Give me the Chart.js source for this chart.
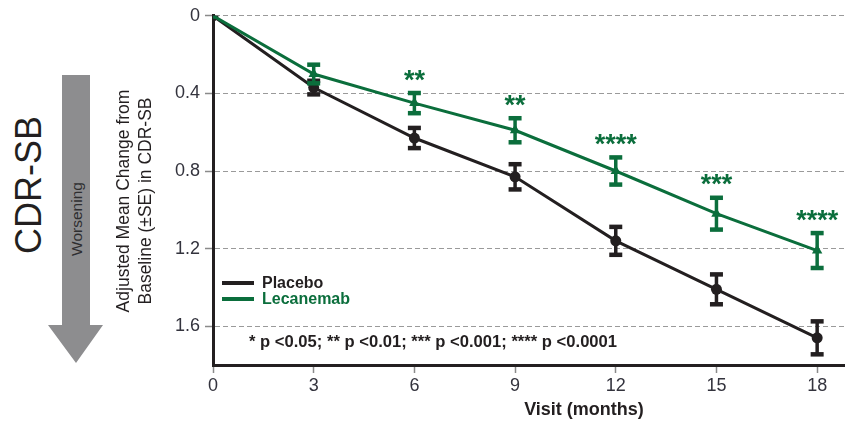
<!DOCTYPE html>
<html><head><meta charset="utf-8">
<script src="https://cdn.jsdelivr.net/npm/chart.js@4.4.1/dist/chart.umd.min.js"></script>
<style>
html,body{margin:0;padding:0;background:#fff;}
#wrap{position:relative;width:850px;height:423px;overflow:hidden;font-family:"Liberation Sans",Arial,sans-serif;}
#c{position:absolute;left:0;top:0;}
.rot{position:absolute;white-space:nowrap;line-height:1;transform:translate(-50%,-50%) rotate(-90deg);}
</style></head><body>
<div id="wrap">
<svg width="850" height="423" style="position:absolute;left:0;top:0">
<polygon points="62,75 90,75 90,325 103,325 76,363 48,325 62,325" fill="#8d8d8f"/>
</svg>
<div class="rot" style="left:29px;top:185px;font-size:36px;color:#231f20;">CDR-SB</div>
<div class="rot" style="left:77px;top:219px;font-size:15.5px;color:#2e2e30;">Worsening</div>
<canvas id="c" width="850" height="423"></canvas>
</div>
<script>
// ---- data ----
const months = [0, 3, 6, 9, 12, 15, 18];
const placeboMean = [0, 0.37, 0.63, 0.83, 1.16, 1.41, 1.66];
const placeboSE = [0, 0.035, 0.052, 0.065, 0.072, 0.077, 0.085];
const lecanemabMean = [0, 0.30, 0.45, 0.59, 0.80, 1.02, 1.21];
const lecanemabSE = [0, 0.048, 0.052, 0.062, 0.070, 0.082, 0.090];
const significance = ['', '', '**', '**', '****', '***', '****'];
const yTickValues = [0, 0.4, 0.8, 1.2, 1.6];
const xTickValues = [0, 3, 6, 9, 12, 15, 18];
const seriesNames = ['Placebo', 'Lecanemab'];
const xTitle = 'Visit (months)';
const yTitle = ['Adjusted Mean Change from', 'Baseline (\u00B1SE) in CDR-SB'];
const footnote = '* p <0.05; ** p <0.01; *** p <0.001; **** p <0.0001';

// ---- styles ----
const GREEN = '#0b6e3c';
const BLACK = '#231f20';
const FONT = '"Liberation Sans", Arial, sans-serif';

const errorBars = {
  id: 'errorBars',
  afterDatasetDraw(chart, args) {
    const ds = chart.data.datasets[args.index];
    if (!ds.se) return;
    const {ctx, scales: {x, y}} = chart;
    ctx.save();
    ctx.strokeStyle = ds.borderColor;
    ctx.fillStyle = ds.borderColor;
    ds.data.forEach((p, i) => {
      const se = ds.se[i];
      if (!se) return;
      const px = x.getPixelForValue(p.x);
      const y1 = y.getPixelForValue(p.y - se);
      const y2 = y.getPixelForValue(p.y + se);
      ctx.lineWidth = 3.5;
      ctx.beginPath(); ctx.moveTo(px, y1); ctx.lineTo(px, y2); ctx.stroke();
      ctx.fillRect(px - 6.5, y1 - 2.25, 13, 4.5);
      ctx.fillRect(px - 6.5, y2 - 2.25, 13, 4.5);
    });
    ctx.restore();
  }
};

const annotations = {
  id: 'annotations',
  afterDraw(chart) {
    const {ctx, scales: {x, y}} = chart;
    ctx.save();
    // significance stars
    ctx.fillStyle = GREEN;
    ctx.font = 'bold 27px ' + FONT;
    ctx.textAlign = 'center';
    ctx.textBaseline = 'alphabetic';
    months.forEach((m, i) => {
      const s = significance[i];
      if (!s) return;
      const top = y.getPixelForValue(lecanemabMean[i] - lecanemabSE[i]);
      ctx.fillText(s, x.getPixelForValue(m), top - 4.5);
    });
    // legend
    const legendColors = [BLACK, GREEN];
    ctx.textAlign = 'left';
    ctx.textBaseline = 'middle';
    ctx.font = 'bold 16px ' + FONT;
    seriesNames.forEach((n, i) => {
      const ly = 283 + i * 16;
      ctx.strokeStyle = legendColors[i];
      ctx.lineWidth = 4;
      ctx.beginPath(); ctx.moveTo(222, ly); ctx.lineTo(254, ly); ctx.stroke();
      ctx.fillStyle = legendColors[i];
      ctx.fillText(n, 262, ly + 0.5);
    });
    // footnote
    ctx.fillStyle = BLACK;
    ctx.font = 'bold 16.6px ' + FONT;
    ctx.fillText(footnote, 249, 342.5);
    // x axis title
    ctx.font = 'bold 18px ' + FONT;
    ctx.textAlign = 'center';
    ctx.fillText(xTitle, 584, 410.5);
    // y axis title
    ctx.font = '17.5px ' + FONT;
    ctx.translate(124.5, 201);
    ctx.rotate(-Math.PI / 2);
    yTitle.forEach((t, i) => ctx.fillText(t, 0, i * 21.5));
    ctx.restore();
  }
};

const toPoints = (vals) => months.map((m, i) => ({x: m, y: vals[i]}));

new Chart(document.getElementById('c'), {
  type: 'line',
  data: {
    datasets: [
      {
        label: seriesNames[0], data: toPoints(placeboMean), se: placeboSE,
        borderColor: BLACK, backgroundColor: BLACK, borderWidth: 3,
        pointStyle: 'circle', pointRadius: 5.5, pointBorderWidth: 0,
        tension: 0, order: 2
      },
      {
        label: seriesNames[1], data: toPoints(lecanemabMean), se: lecanemabSE,
        borderColor: GREEN, backgroundColor: GREEN, borderWidth: 3,
        pointStyle: 'triangle', pointRadius: 6, pointBorderWidth: 0,
        tension: 0, order: 1
      }
    ]
  },
  options: {
    responsive: false,
    animation: false,
    devicePixelRatio: 1,
    events: [],
    layout: {padding: {left: 0, right: 2, top: 14, bottom: 0}},
    plugins: {legend: {display: false}, tooltip: {enabled: false}, title: {display: false}},
    scales: {
      x: {
        type: 'linear', min: 0, max: 18.8,
        afterBuildTicks: (s) => { s.ticks = xTickValues.map(v => ({value: v})); },
        afterFit: (s) => { s.height = 58; },
        grid: {drawOnChartArea: false, drawTicks: true, tickLength: 8, tickColor: '#8a8a8a', tickWidth: 1.5},
        border: {display: true, color: BLACK, width: 3},
        ticks: {color: '#33333d', font: {family: FONT, size: 18}, padding: 2, maxRotation: 0,
                callback: (v) => String(v)}
      },
      y: {
        type: 'linear', min: 0, max: 1.8, reverse: true,
        afterBuildTicks: (s) => { s.ticks = yTickValues.map(v => ({value: v})); },
        afterFit: (s) => { s.width = 213; },
        grid: {color: '#9a9a9a', lineWidth: 1, drawTicks: true, tickLength: 8, tickColor: '#8a8a8a',
               tickWidth: 1.5, tickBorderDash: []},
        border: {display: true, color: BLACK, width: 3, dash: [5, 3]},
        ticks: {color: '#33333d', font: {family: FONT, size: 18}, padding: 5,
                callback: (v) => String(v)}
      }
    }
  },
  plugins: [errorBars, annotations]
});
</script>
</body></html>
